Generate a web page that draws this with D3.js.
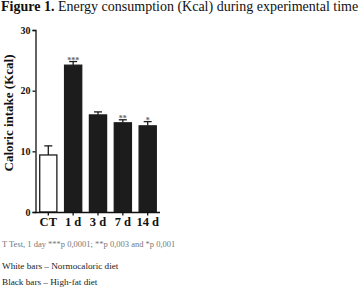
<!DOCTYPE html>
<html>
<head>
<meta charset="utf-8">
<script src="https://cdn.jsdelivr.net/npm/d3@7"></script>
<style>
  body { margin: 0; background: #fff; }
</style>
</head>
<body>
<svg class="chart"></svg>
<script>
// Data
var groups = ["CT", "1 d", "3 d", "7 d", "14 d"];
var intake = [9.4, 24.2, 16.0, 14.7, 14.2];
var sem = [1.5, 0.6, 0.5, 0.5, 0.7];
var stars = ["", "***", "", "**", "*"];
var yTicks = [0, 10, 20, 30];

const width = 359;
const height = 289;
const serif = "'Liberation Serif', 'Times New Roman', serif";

var svg = d3.select(".chart")
    .attr("width", width)
    .attr("height", height);

// Title
var title = svg.append("text")
    .attr("x", 1)
    .attr("y", 11)
    .style("font-family", serif)
    .style("font-size", "14px")
    .style("fill", "#111");
title.append("tspan").style("font-weight", "bold").text("Figure 1.");
title.append("tspan").text(" Energy consumption (Kcal) during experimental time");

// scales
var x = d3.scaleBand()
    .domain(groups)
    .range([36, 160])
    .paddingInner(0.31)
    .paddingOuter(0.15);

var y = d3.scaleLinear()
    .domain([0, 30])
    .range([212, 30]);

// bars
svg.selectAll(".bar")
    .data(groups)
    .enter()
    .append("rect")
    .attr("class", "bar")
    .attr("x", d => x(d))
    .attr("y", (d, i) => y(intake[i]))
    .attr("width", x.bandwidth())
    .attr("height", (d, i) => y(0) - y(intake[i]))
    .attr("fill", (d, i) => i == 0 ? "#fff" : "#1c1c1c")
    .attr("stroke", "#1c1c1c")
    .attr("stroke-width", 1.3);

// error bars (upper only)
var err = svg.selectAll(".err")
    .data(groups)
    .enter()
    .append("g")
    .attr("class", "err")
    .attr("stroke", "#1c1c1c")
    .attr("stroke-width", 1.3);

err.append("line")
    .attr("x1", d => x(d) + x.bandwidth() / 2)
    .attr("x2", d => x(d) + x.bandwidth() / 2)
    .attr("y1", (d, i) => y(intake[i]))
    .attr("y2", (d, i) => y(intake[i] + sem[i]));

err.append("line")
    .attr("x1", d => x(d) + x.bandwidth() / 2 - 4)
    .attr("x2", d => x(d) + x.bandwidth() / 2 + 4)
    .attr("y1", (d, i) => y(intake[i] + sem[i]))
    .attr("y2", (d, i) => y(intake[i] + sem[i]));

// significance stars
svg.selectAll(".star")
    .data(groups)
    .enter()
    .append("text")
    .attr("class", "star")
    .attr("x", d => x(d) + x.bandwidth() / 2)
    .attr("y", (d, i) => y(intake[i] + sem[i]) + 1)
    .attr("text-anchor", "middle")
    .style("font-family", serif)
    .style("font-size", "8px")
    .style("font-weight", "bold")
    .style("fill", "#666")
    .text((d, i) => stars[i]);

// y axis
var yAxis = svg.append("g")
    .attr("transform", "translate(35.5,0)")
    .call(d3.axisLeft(y).tickValues(yTicks).tickSize(3).tickPadding(2));
yAxis.selectAll("path, line").attr("stroke", "#111").attr("stroke-width", 1.3);
yAxis.selectAll("text")
    .style("font-family", serif)
    .style("font-size", "10px")
    .style("font-weight", "bold")
    .style("fill", "#111");

// x axis
var xAxis = svg.append("g")
    .attr("transform", "translate(0,212.5)")
    .call(d3.axisBottom(x).tickSize(3).tickPadding(2).tickSizeOuter(0));
xAxis.select(".domain").attr("d", "M35.5,0H160");
xAxis.selectAll("path, line").attr("stroke", "#111").attr("stroke-width", 1.3);
xAxis.selectAll("text")
    .style("font-family", serif)
    .style("font-size", "12.5px")
    .style("font-weight", "bold")
    .style("fill", "#111");

// y label
svg.append("text")
    .attr("transform", "translate(13,113) rotate(-90)")
    .attr("text-anchor", "middle")
    .style("font-family", serif)
    .style("font-size", "13px")
    .style("font-weight", "bold")
    .style("fill", "#111")
    .text("Caloric intake (Kcal)");

// footnotes
svg.append("text")
    .attr("x", 2)
    .attr("y", 247)
    .style("font-family", serif)
    .style("font-size", "8.5px")
    .style("fill", "#777")
    .text("T Test, 1 day ***p  0,0001; **p  0,003 and *p  0,001");

svg.append("text")
    .attr("x", 2)
    .attr("y", 268.5)
    .style("font-family", serif)
    .style("font-size", "9.2px")
    .style("fill", "#222")
    .text("White bars \u2013 Normocaloric diet");

svg.append("text")
    .attr("x", 2)
    .attr("y", 285)
    .style("font-family", serif)
    .style("font-size", "9.2px")
    .style("fill", "#222")
    .text("Black bars \u2013 High-fat diet");
</script>
</body>
</html>
